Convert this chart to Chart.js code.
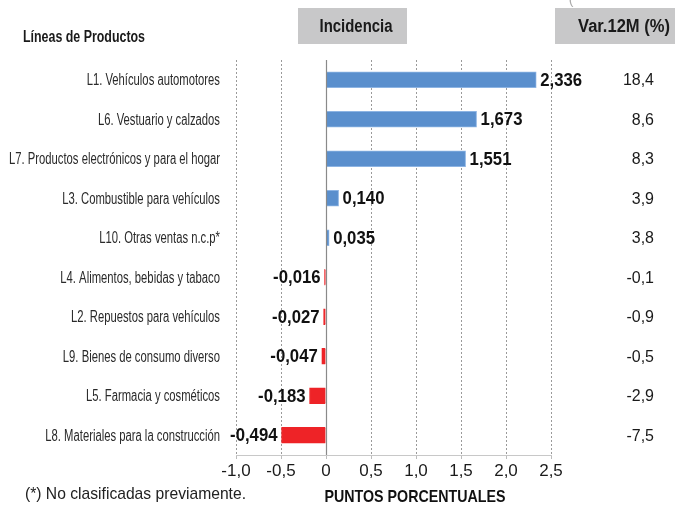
<!DOCTYPE html>
<html>
<head>
<meta charset="utf-8">
<script src="https://cdn.jsdelivr.net/npm/chart.js@4/dist/chart.umd.min.js"></script>
<style>
  html, body { margin: 0; padding: 0; background: #fff; }
  #wrap { width: 675px; height: 506px; position: relative; }
</style>
</head>
<body>
<div id="wrap"><canvas id="c" width="675" height="506"></canvas></div>
<script>
const categories = [
  'L1. Vehículos automotores',
  'L6. Vestuario y calzados',
  'L7. Productos electrónicos y para el hogar',
  'L3. Combustible para vehículos',
  'L10. Otras ventas n.c.p*',
  'L4. Alimentos, bebidas y tabaco',
  'L2. Repuestos para vehículos',
  'L9. Bienes de consumo diverso',
  'L5. Farmacia y cosméticos',
  'L8. Materiales para la construcción'
];
const incidencia = [2.336, 1.673, 1.551, 0.140, 0.035, -0.016, -0.027, -0.047, -0.183, -0.494];
const var12m = ['18,4', '8,6', '8,3', '3,9', '3,8', '-0,1', '-0,9', '-0,5', '-2,9', '-7,5'];
const xTicks = [-1.0, -0.5, 0, 0.5, 1.0, 1.5, 2.0, 2.5];

const FONT = '"Liberation Sans", Arial, "DejaVu Sans", sans-serif';
const BLUE = '#5A8FCD';
const RED = '#EE2327';

const fmt = (v, d) => v.toFixed(d).replace('.', ',');

// draw text squeezed horizontally (emulates a condensed face); sx = scale factor
function drawText(ctx, text, x, y, align, font, sx) {
  ctx.save();
  ctx.font = font;
  ctx.translate(x, y);
  ctx.scale(sx, 1);
  ctx.textAlign = align;
  ctx.fillText(text, 0, 0);
  ctx.restore();
}
function fitText(ctx, text, x, y, align, font, target) {
  ctx.save();
  ctx.font = font;
  const w = ctx.measureText(text).width;
  ctx.restore();
  drawText(ctx, text, x, y, align, font, target ? Math.min(1, target / w) : 1);
}

const decor = {
  id: 'decor',
  beforeDraw(chart) {
    const ctx = chart.ctx;
    ctx.save();
    ctx.fillStyle = '#C8C8C9';
    ctx.fillRect(298, 8, 109, 36);
    ctx.fillRect(555, 8, 120, 36);
    ctx.fillStyle = '#1a1a1a';
    ctx.textBaseline = 'middle';
    fitText(ctx, 'Incidencia', 356, 27, 'center', 'bold 18px ' + FONT, 73);
    fitText(ctx, 'Var.12M (%)', 624, 27, 'center', 'bold 18px ' + FONT, 92);
    fitText(ctx, 'Líneas de Productos', 23, 38, 'left', 'bold 16px ' + FONT, 122);
    ctx.fillStyle = '#aaa';
    drawText(ctx, '(', 571, 0, 'center', '14px ' + FONT, 1);
    ctx.restore();
  },
  afterDatasetsDraw(chart) {
    const ctx = chart.ctx;
    const xs = chart.scales.x, ys = chart.scales.y;
    ctx.save();
    // zero line
    const x0 = Math.round(xs.getPixelForValue(0)) + 0.5;
    ctx.strokeStyle = '#8a8a8a';
    ctx.lineWidth = 1.2;
    ctx.beginPath();
    ctx.moveTo(x0, chart.chartArea.top);
    ctx.lineTo(x0, chart.chartArea.bottom);
    ctx.stroke();
    // category labels (condensed)
    ctx.textBaseline = 'middle';
    ctx.fillStyle = '#2a2a2a';
    const lf = '16px ' + FONT;
    ctx.font = lf;
    const longest = Math.max(...categories.map(c => ctx.measureText(c).width));
    const sx = 211 / longest;
    categories.forEach((c, i) => {
      drawText(ctx, c, 220, ys.getPixelForValue(i) + 1, 'right', lf, sx);
    });
    // data labels
    const meta = chart.getDatasetMeta(0);
    ctx.fillStyle = '#111';
    const df = 'bold 18px ' + FONT;
    meta.data.forEach((el, i) => {
      const v = incidencia[i];
      const t = fmt(v, 3);
      if (v >= 0) {
        drawText(ctx, t, el.x + 4, el.y + 1, 'left', df, 0.93);
      } else {
        drawText(ctx, t, Math.min(el.x, x0) - 4, el.y + 1, 'right', df, 0.93);
      }
    });
    // Var.12M column
    ctx.fillStyle = '#1a1a1a';
    var12m.forEach((t, i) => {
      drawText(ctx, t, 654, ys.getPixelForValue(i) + 1, 'right', '17px ' + FONT, 0.94);
    });
    // footnote and axis title
    ctx.fillStyle = '#222';
    fitText(ctx, '(*) No clasificadas previamente.', 25, 494, 'left', '17px ' + FONT, 221);
    ctx.fillStyle = '#111';
    fitText(ctx, 'PUNTOS PORCENTUALES', 415, 497, 'center', 'bold 17px ' + FONT, 181);
    ctx.restore();
  }
};

new Chart(document.getElementById('c'), {
  type: 'bar',
  data: {
    labels: categories,
    datasets: [{
      data: incidencia,
      backgroundColor: incidencia.map(v => v >= 0 ? BLUE : RED),
      borderColor: incidencia.map(v => v >= 0 ? '#8DB4E3' : RED),
      borderWidth: 1,
      barThickness: 16
    }]
  },
  options: {
    indexAxis: 'y',
    responsive: false,
    animation: false,
    devicePixelRatio: 1,
    layout: { padding: { left: 0, right: 124, top: 60, bottom: 0 } },
    plugins: { legend: { display: false }, tooltip: { enabled: false } },
    scales: {
      x: {
        min: -1.0,
        max: 2.5,
        afterBuildTicks(scale) { scale.ticks = xTicks.map(v => ({ value: v })); },
        afterFit(scale) { scale.height = 51; },
        ticks: {
          color: '#1a1a1a',
          font: { family: FONT, size: 17 },
          padding: 2,
          callback: v => v === 0 ? '0' : fmt(v, 1)
        },
        grid: { color: '#9a9a9a', lineWidth: 1, drawTicks: true, tickLength: 4, tickColor: '#bbb' },
        border: { display: true, color: '#c8c8c8', dash: [2, 2] }
      },
      y: {
        afterFit(scale) { scale.width = 236; },
        ticks: { display: false },
        grid: { display: false, drawTicks: false },
        border: { display: false }
      }
    }
  },
  plugins: [decor]
});
</script>
</body>
</html>
